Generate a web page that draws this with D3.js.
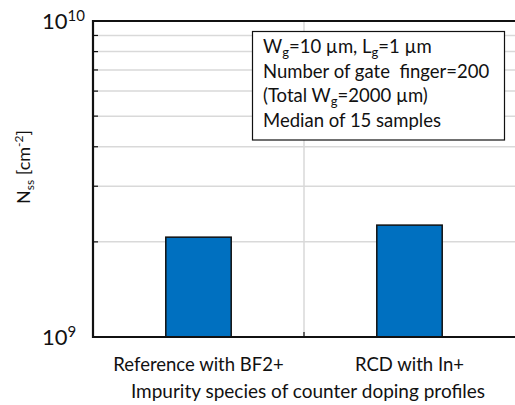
<!DOCTYPE html>
<html>
<head>
<meta charset="utf-8">
<script src="https://cdn.jsdelivr.net/npm/d3@7"></script>
<style>
  body { margin: 0; background: #fff; }
  text { font-family: Lato, "Open Sans", sans-serif; fill: #111; white-space: pre; }
</style>
</head>
<body>
<svg id="chart" width="515" height="405"></svg>
<script>
// data
const categories = ["Reference with BF2+", "RCD with In+"];
const nssValues = [2.07e9, 2.26e9];
const yDomain = [1e9, 1e10];
const gridValues = [2e9, 3e9, 4e9, 5e9, 6e9, 7e9, 8e9, 9e9];
const yLabelExps = [{v: 1e9, exp: "9"}, {v: 1e10, exp: "10"}];
const noteLines = [
  [["W", 0], ["g", 1], ["=10 µm, L", 0], ["g", 1], ["=1 µm", 0]],
  [["Number of gate  finger=200", 0]],
  [["(Total W", 0], ["g", 1], ["=2000 µm)", 0]],
  [["Median of 15 samples", 0]]
];

const svg = d3.select("#chart");
const pLeft = 93, pRight = 515, pTop = 21, pBottom = 337;

const y = d3.scaleLog().domain(yDomain).range([pBottom, pTop]);
const xCat = d3.scaleBand().domain(categories).range([pLeft, pRight]);
const xBar = d3.scaleBand().domain(categories).range([pLeft, pRight])
  .paddingInner(0.69).paddingOuter(0.345);

// horizontal grid
svg.append("g").selectAll("line").data(gridValues).enter().append("line")
  .attr("x1", pLeft).attr("x2", pRight)
  .attr("y1", d => y(d)).attr("y2", d => y(d))
  .attr("stroke", "#d9d9d9").attr("stroke-width", 1.5);

// vertical divider between categories
const dividers = categories.slice(1).map(c => xCat(c));
svg.append("g").selectAll("line").data(dividers).enter().append("line")
  .attr("x1", d => d).attr("x2", d => d)
  .attr("y1", pTop).attr("y2", pBottom)
  .attr("stroke", "#d9d9d9").attr("stroke-width", 1.5);

// bars
svg.append("g").selectAll("rect").data(categories).enter().append("rect")
  .attr("x", d => xBar(d))
  .attr("width", xBar.bandwidth())
  .attr("y", (d, i) => y(nssValues[i]))
  .attr("height", (d, i) => pBottom - y(nssValues[i]))
  .attr("fill", "#0070c0")
  .attr("stroke", "#111").attr("stroke-width", 1.5);

// inward minor ticks
svg.append("g").selectAll("line").data(gridValues).enter().append("line")
  .attr("x1", pLeft).attr("x2", pLeft + 5)
  .attr("y1", d => y(d)).attr("y2", d => y(d))
  .attr("stroke", "#111").attr("stroke-width", 1.2);
svg.append("g").selectAll("line").data(dividers).enter().append("line")
  .attr("x1", d => d).attr("x2", d => d)
  .attr("y1", pBottom).attr("y2", pBottom - 5)
  .attr("stroke", "#111").attr("stroke-width", 1.2);

// frame
svg.append("path")
  .attr("d", `M${pRight + 2},${pTop} H${pLeft} V${pBottom} H${pRight + 2}`)
  .attr("fill", "none").attr("stroke", "#111").attr("stroke-width", 2.2);

// y labels 10^n
yLabelExps.forEach(t => {
  const tx = svg.append("text")
    .attr("x", 42).attr("y", y(t.v) + 8)
    .style("font-size", "22px");
  tx.append("tspan").text("10");
  tx.append("tspan").attr("dy", -8).style("font-size", "15px").text(t.exp);
});

// y axis title
const yt = svg.append("text")
  .attr("transform", "translate(30,167) rotate(-90)")
  .attr("text-anchor", "middle")
  .style("font-size", "18px");
yt.append("tspan").text("N");
yt.append("tspan").attr("dy", 4).style("font-size", "12px").text("ss");
yt.append("tspan").attr("dy", -4).text(" [cm");
yt.append("tspan").attr("dy", -7).style("font-size", "12px").text("-2");
yt.append("tspan").attr("dy", 7).text("]");

// category labels
svg.append("g").selectAll("text").data(categories).enter().append("text")
  .attr("x", d => xCat(d) + xCat.bandwidth() / 2)
  .attr("y", 371)
  .attr("text-anchor", "middle")
  .style("font-size", "18.5px")
  .text(d => d);

// x axis title
svg.append("text")
  .attr("x", (pLeft + pRight) / 2 + 4).attr("y", 398)
  .attr("text-anchor", "middle")
  .style("font-size", "19px")
  .text("Impurity species of counter doping profiles");

// note box
const note = svg.append("g");
note.append("rect")
  .attr("x", 252.5).attr("y", 31.5).attr("width", 252).attr("height", 108.5)
  .attr("fill", "#fff").attr("stroke", "#111").attr("stroke-width", 1.2);
noteLines.forEach((parts, i) => {
  const t = note.append("text")
    .attr("x", 263).attr("y", 53 + i * 24.6)
    .style("font-size", "18.5px");
  let sub = 0;
  parts.forEach(([s, isSub]) => {
    const dy = isSub ? (sub ? 0 : 4) : (sub ? -4 : 0);
    sub = isSub;
    t.append("tspan").attr("dy", dy)
      .style("font-size", isSub ? "13px" : "18.5px").text(s);
  });
});
</script>
</body>
</html>
